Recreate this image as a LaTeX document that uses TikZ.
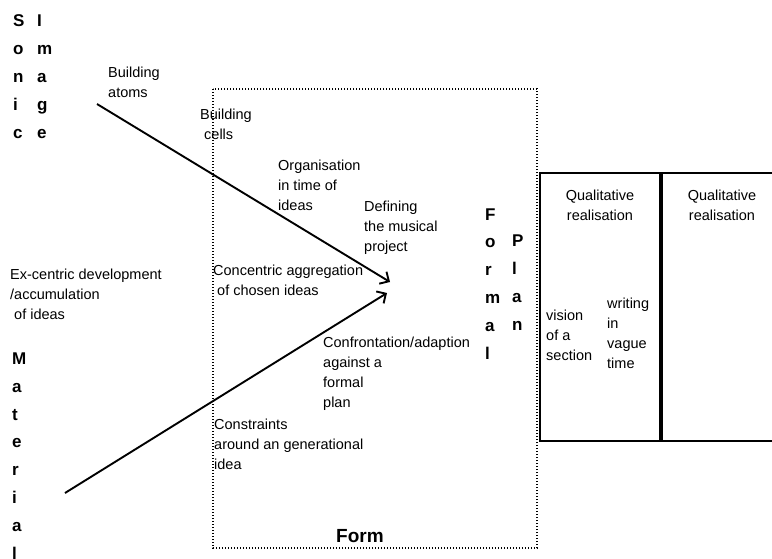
\documentclass[tikz,border=0pt]{standalone}
\usepackage{fontspec}
\setmainfont{Liberation Sans}
\usetikzlibrary{arrows.meta}
\begin{document}
\begin{tikzpicture}[x=1pt,y=-1pt,
  % multi-line nodes are placed by the baseline of their last line
  lbl/.style={font=\fontsize{14.5}{20}\selectfont, align=left, anchor=base west, inner sep=0pt},
  clbl/.style={font=\fontsize{14.5}{20}\selectfont, align=center, anchor=base, inner sep=0pt},
  column/.style={font=\bfseries\fontsize{17}{27.8}\selectfont, align=left, anchor=base west, inner sep=0pt},
  flow/.style={line width=1.9pt, -{Straight Barb[length=7pt,width=14pt]}},
  formarea/.style={line width=1.3pt, dash pattern=on 1.1pt off 1.9pt},
  panel/.style={line width=2pt}]
\useasboundingbox (0,0) rectangle (772,558);

% dotted area of the form
\draw[formarea] (213,89) rectangle (537,548);
\node[font=\bfseries\fontsize{19}{22}\selectfont, anchor=base west, inner sep=0pt] (form) at (336,542) {Form};

% realisation panels
\draw[panel] (540,173) rectangle (661,441);
\draw[panel] (661,173) -- (776,173);
\draw[panel] (661,441) -- (776,441);
\draw[line width=4.5pt] (661,172) -- (661,442);
\node[clbl] (qual1) at (600,220) {Qualitative\\realisation};
\node[clbl] (qual2) at (722,220) {Qualitative\\realisation};
\node[lbl] (vision) at (546,360) {vision\\of a\\section};
\node[lbl] (writing) at (607,368) {writing\\in\\vague\\time};

% vertical words
\node[column] (sonic) at (13,138) {S\\o\\n\\i\\c};
\node[column] (image) at (37,138) {I\\m\\a\\g\\e};
\node[column] (material) at (12,559) {M\\a\\t\\e\\r\\i\\a\\l};
\node[column] (formal) at (485,359) {F\\o\\r\\m\\a\\l};
\node[column] (plan) at (512,330) {P\\l\\a\\n};

% labels along the two paths
\node[lbl] (atoms) at (108,97) {Building\\atoms};
\node[lbl] (cells) at (200,139) {Building\\\hspace*{4pt}cells};
\node[lbl] (organ) at (278,210) {Organisation\\in time of\\ideas};
\node[lbl] (project) at (364,251) {Defining\\the musical\\project};
\node[lbl] (concentric) at (213,295) {Concentric aggregation\\\hspace*{4pt}of chosen ideas};
\node[lbl] (excentric) at (10,319) {Ex-centric development\\/accumulation\\\hspace*{4pt}of ideas};
\node[lbl] (confront) at (323,407) {Confrontation/adaption\\against a\\formal\\plan};
\node[lbl] (constraints) at (214,469) {Constraints\\around an generational\\idea};

% the two converging paths
\coordinate (sonicStart) at (97,104);
\coordinate (sonicTip) at (390,282);
\coordinate (materialStart) at (65,493);
\coordinate (materialTip) at (387,293);
\draw[flow] (sonicStart) -- (sonicTip);
\draw[flow] (materialStart) -- (materialTip);
\end{tikzpicture}
\end{document}
